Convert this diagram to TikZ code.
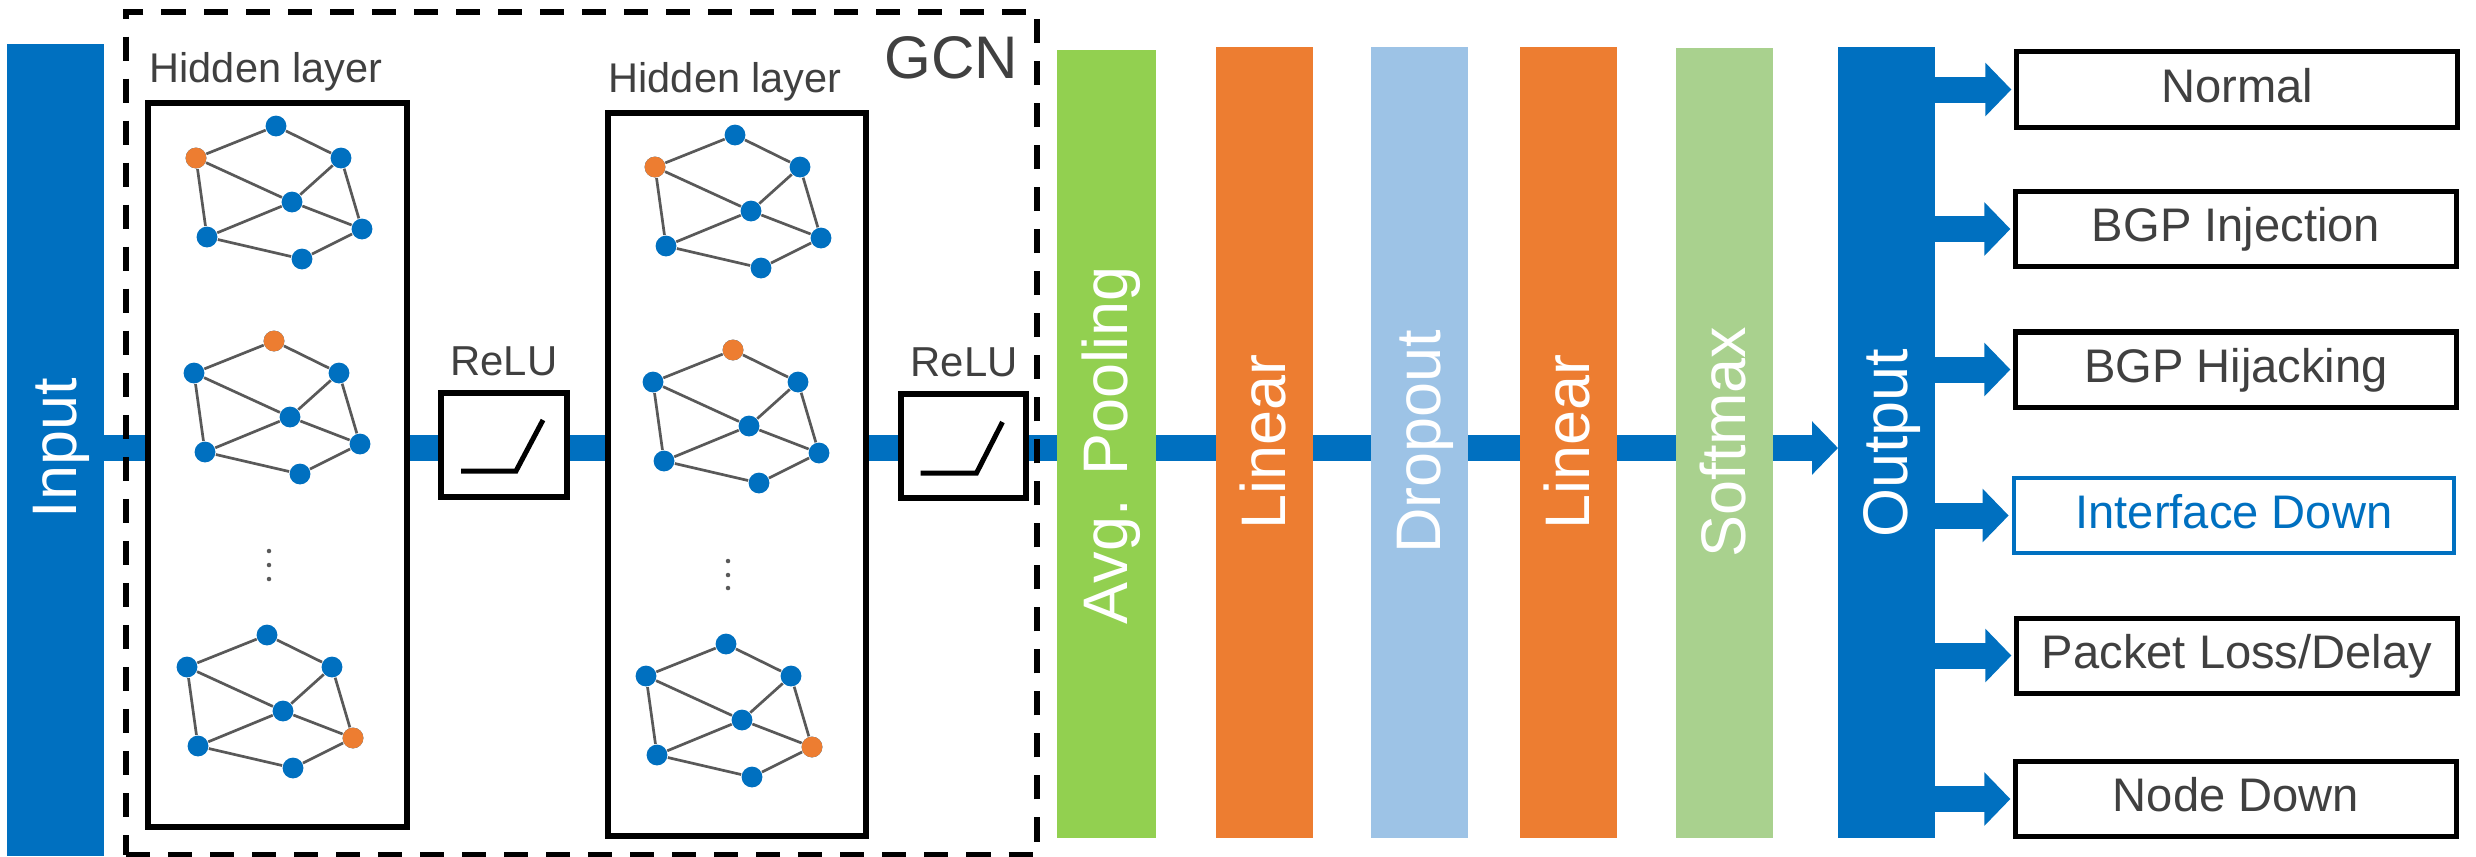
\documentclass[tikz,border=0pt]{standalone}
\usepackage{fontspec}
\setmainfont{Liberation Sans}
\usetikzlibrary{arrows.meta,fit}
\definecolor{mblue}{HTML}{0070C0}
\definecolor{morange}{HTML}{ED7D31}
\definecolor{mgreen}{HTML}{92D050}
\definecolor{mlblue}{HTML}{9DC3E6}
\definecolor{mlgreen}{HTML}{A9D18E}
\definecolor{mgray}{HTML}{404040}
\definecolor{egray}{HTML}{595959}
\pgfdeclarelayer{bg}
\pgfsetlayers{bg,main}
\newcommand\gcngraph[4]{%
  \begin{scope}[shift={(#2,#3)}]
    \node[gdot] (#1a) at (0,0) {};
    \node[gdot] (#1b) at (-80,32) {};
    \node[gdot] (#1c) at (65,32) {};
    \node[gdot] (#1d) at (16,76) {};
    \node[gdot] (#1e) at (-69,111) {};
    \node[gdot] (#1f) at (86,103) {};
    \node[gdot] (#1g) at (26,133) {};
    \node[gdot,fill=morange] (#1o) at (#1#4) {};
    \draw[gedge] (#1a)--(#1b) (#1a)--(#1c) (#1b)--(#1d) (#1b)--(#1e) (#1c)--(#1d)
      (#1c)--(#1f) (#1d)--(#1e) (#1d)--(#1f) (#1e)--(#1g) (#1g)--(#1f);
  \end{scope}}
\begin{document}
\begin{tikzpicture}[x=0.01cm,y=-0.01cm,
  bar/.style={inner sep=0pt, outer sep=0pt, draw=none},
  bartext/.style={rotate=90, anchor=base, text=white, inner sep=0pt,
    font=\fontsize{17.9}{20}\selectfont},
  hbox/.style={draw=black, line width=0.055cm, fill=white, inner sep=0pt},
  gcnbox/.style={draw=black, line width=0.06cm, dash pattern=on 0.24cm off 0.18cm, inner sep=0pt},
  gdot/.style={circle, fill=mblue, inner sep=0pt, minimum size=0.208cm},
  gedge/.style={draw=egray, line width=0.027cm},
  vdot/.style={circle, fill=egray, inner sep=0pt, minimum size=0.045cm},
  lbl/.style={text=mgray, inner sep=0pt},
  relu/.style={draw=black, line width=0.05cm},
  flow/.style={draw=mblue, line width=0.26cm, -{Triangle[length=0.26cm, width=0.52cm]}},
  obox/.style={draw=black, line width=0.05cm, minimum width=4.40cm, minimum height=0.75cm,
    inner sep=0pt, text=mgray, text height=0.716em, text depth=0pt,
    font=\fontsize{13.4}{16}\selectfont},
]
\useasboundingbox (0,0) rectangle (2476,856);
\coordinate (lineY) at (0,448);

% bars
\node[bar, fill=mblue, fit={(7,44) (104,856)}] (inp) {};
\node[bartext] (inpT) at (76,448) {Input};
\node[bar, fill=mgreen, fit={(1057,50) (1156,838)}] (avg) {};
\node[bartext] (avgT) at (1127,445) {Avg. Pooling};
\node[bar, fill=morange, fit={(1216,47) (1313,838)}] (lin1) {};
\node[bartext] (lin1T) at (1285,442) {Linear};
\node[bar, fill=mlblue, fit={(1371,47) (1468,838)}] (drop) {};
\node[bartext] (dropT) at (1440,442) {Dropout};
\node[bar, fill=morange, fit={(1520,47) (1617,838)}] (lin2) {};
\node[bartext] (lin2T) at (1589,442) {Linear};
\node[bar, fill=mlgreen, fit={(1676,48) (1773,838)}] (soft) {};
\node[bartext] (softT) at (1745,442) {Softmax};
\node[bar, fill=mblue, fit={(1838,47) (1935,838)}] (outp) {};
\node[bartext] (outpT) at (1907,443) {Output};

% main flow line
\begin{pgfonlayer}{bg}
\draw[flow] (inp.east |- lineY) -- (outp.west |- lineY);
\end{pgfonlayer}

% hidden layers
\node[hbox, fit={(148,103) (407,827)}] (h1) {};
\node[hbox, fit={(608,113) (866,836)}] (h2) {};
\node[lbl, anchor=base west, font=\fontsize{11.8}{14}\selectfont] (h1T) at (149,82) {Hidden layer};
\node[lbl, anchor=base west, font=\fontsize{11.8}{14}\selectfont] (h2T) at (608,92) {Hidden layer};

\gcngraph{pa}{276}{126}{b}
\gcngraph{pb}{274}{341}{a}
\gcngraph{pc}{267}{635}{f}
\gcngraph{qa}{735}{135}{b}
\gcngraph{qb}{733}{350}{a}
\gcngraph{qc}{726}{644}{f}

\node[vdot] (d1a) at (269,551) {};
\node[vdot] (d1b) at (269,565) {};
\node[vdot] (d1c) at (269,579) {};
\node[vdot] (d2a) at (728,561) {};
\node[vdot] (d2b) at (728,575) {};
\node[vdot] (d2c) at (728,588) {};

% ReLU
\node[hbox, fit={(441,393) (567,497)}] (r1) {};
\node[hbox, fit={(901,394) (1026,498)}] (r2) {};
\node[lbl, anchor=base, font=\fontsize{11.9}{14}\selectfont] (r1T) at (504,375) {ReLU};
\node[lbl, anchor=base, font=\fontsize{11.9}{14}\selectfont] (r2T) at (964,376) {ReLU};
\draw[relu, shift={(r1.center)}] (-43,26) -- (12,26) -- (39,-25);
\draw[relu, shift={(r2.center)}] (-43,27) -- (13,27) -- (39,-24);

% GCN box
\node[gcnbox, fit={(126,12) (1037,855)}] (gcn) {};
\node[lbl, anchor=base east, font=\fontsize{17.1}{20}\selectfont] (gcnT) at (1019,78) {GCN};

% output classes
\node[obox] (o1) at (2237,89.5) {Normal};
\node[obox] (o2) at (2236,229) {BGP Injection};
\node[obox] (o3) at (2236,369.5) {BGP Hijacking};
\node[obox, draw=mblue, text=mblue, line width=0.045cm] (o4) at (2234,515.5) {Interface Down};
\node[obox] (o5) at (2237,655.5) {Packet Loss/Delay};
\node[obox] (o6) at (2236,799) {Node Down};
\foreach \k in {1,...,6}{
  \draw[flow, shorten >=0.03cm] (outp.east |- o\k.west) -- (o\k.west);
}
\end{tikzpicture}
\end{document}
